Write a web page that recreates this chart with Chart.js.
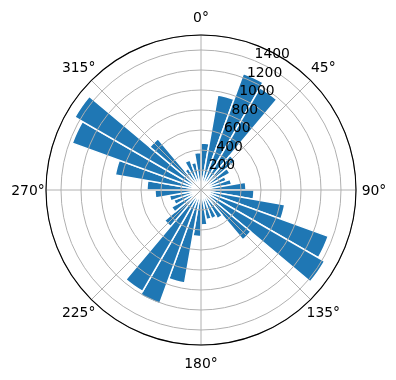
<!DOCTYPE html>
<html>
<head>
<meta charset="utf-8">
<script src="https://cdn.jsdelivr.net/npm/chart.js@4/dist/chart.umd.min.js"></script>
<style>
  body { margin: 0; background: #fff; }
</style>
</head>
<body>
<canvas id="rose" width="396" height="380"></canvas>
<script>
// 36 direction bins of 10 degrees, clockwise from north
const directions = ['0°','10°','20°','30°','40°','50°','60°','70°','80°','90°','100°','110°',
  '120°','130°','140°','150°','160°','170°','180°','190°','200°','210°','220°','230°',
  '240°','250°','260°','270°','280°','290°','300°','310°','320°','330°','340°','350°'];
const counts = [470, 965, 1240, 1180, 450, 335, 270, 310, 450, 530, 850, 1355,
  1427, 650, 330, 305, 300, 350, 465, 945, 1210, 1170, 475, 340,
  290, 320, 460, 540, 870, 1370, 1457, 670, 250, 320, 280, 375];
const radialTicks = [200, 400, 600, 800, 1000, 1200, 1400];
const angleTicks = [0, 45, 90, 135, 180, 225, 270, 315];
const angleTickLabels = ['0°', '45°', '90°', '135°', '180°', '225°', '270°', '315°'];
const rMax = 1550;

const font = '13.9px "DejaVu Sans"';

const polarDecor = {
  id: 'polarDecor',
  afterDraw(chart) {
    const r = chart.scales.r;
    const ctx = chart.ctx;
    const cx = r.xCenter, cy = r.yCenter, R = r.drawingArea;
    ctx.save();
    // theta grid lines
    ctx.strokeStyle = '#b0b0b0';
    ctx.lineWidth = 1;
    angleTicks.forEach(a => {
      const t = (a - 90) * Math.PI / 180;
      ctx.beginPath();
      ctx.moveTo(cx, cy);
      ctx.lineTo(cx + R * Math.cos(t), cy + R * Math.sin(t));
      ctx.stroke();
    });
    // outer spine
    ctx.strokeStyle = '#000';
    ctx.lineWidth = 1.1;
    ctx.beginPath();
    ctx.arc(cx, cy, R, 0, Math.PI * 2);
    ctx.stroke();
    // theta labels
    ctx.fillStyle = '#000';
    ctx.font = font;
    ctx.textAlign = 'center';
    ctx.textBaseline = 'middle';
    angleTicks.forEach((a, i) => {
      const t = (a - 90) * Math.PI / 180;
      const d = R + 18;
      ctx.fillText(angleTickLabels[i], cx + d * Math.cos(t), cy + d * Math.sin(t) + 1);
    });
    // radial labels along 22.5 deg
    ctx.textAlign = 'left';
    ctx.textBaseline = 'bottom';
    const lt = (22.5 - 90) * Math.PI / 180;
    radialTicks.forEach(v => {
      const d = r.getDistanceFromCenterForValue(v);
      ctx.fillText(String(v), cx + d * Math.cos(lt), cy + d * Math.sin(lt) + 1);
    });
    ctx.restore();
  }
};

new Chart(document.getElementById('rose'), {
  type: 'polarArea',
  data: {
    labels: directions,
    datasets: [{
      data: counts,
      backgroundColor: '#1f77b4',
      borderColor: '#ffffff',
      borderWidth: 1.5
    }]
  },
  options: {
    responsive: false,
    animation: false,
    layout: { padding: { left: 46, right: 40, top: 35, bottom: 35 } },
    plugins: {
      legend: { display: false },
      tooltip: { enabled: false }
    },
    scales: {
      r: {
        min: 0,
        max: rMax,
        bounds: 'data',
        startAngle: 0,
        ticks: { display: false, stepSize: 200, includeBounds: false },
        grid: { display: true, circular: true, color: '#b0b0b0', lineWidth: 1, z: 1 },
        angleLines: { display: false },
        pointLabels: { display: false }
      }
    }
  },
  plugins: [polarDecor]
});
</script>
</body>
</html>
